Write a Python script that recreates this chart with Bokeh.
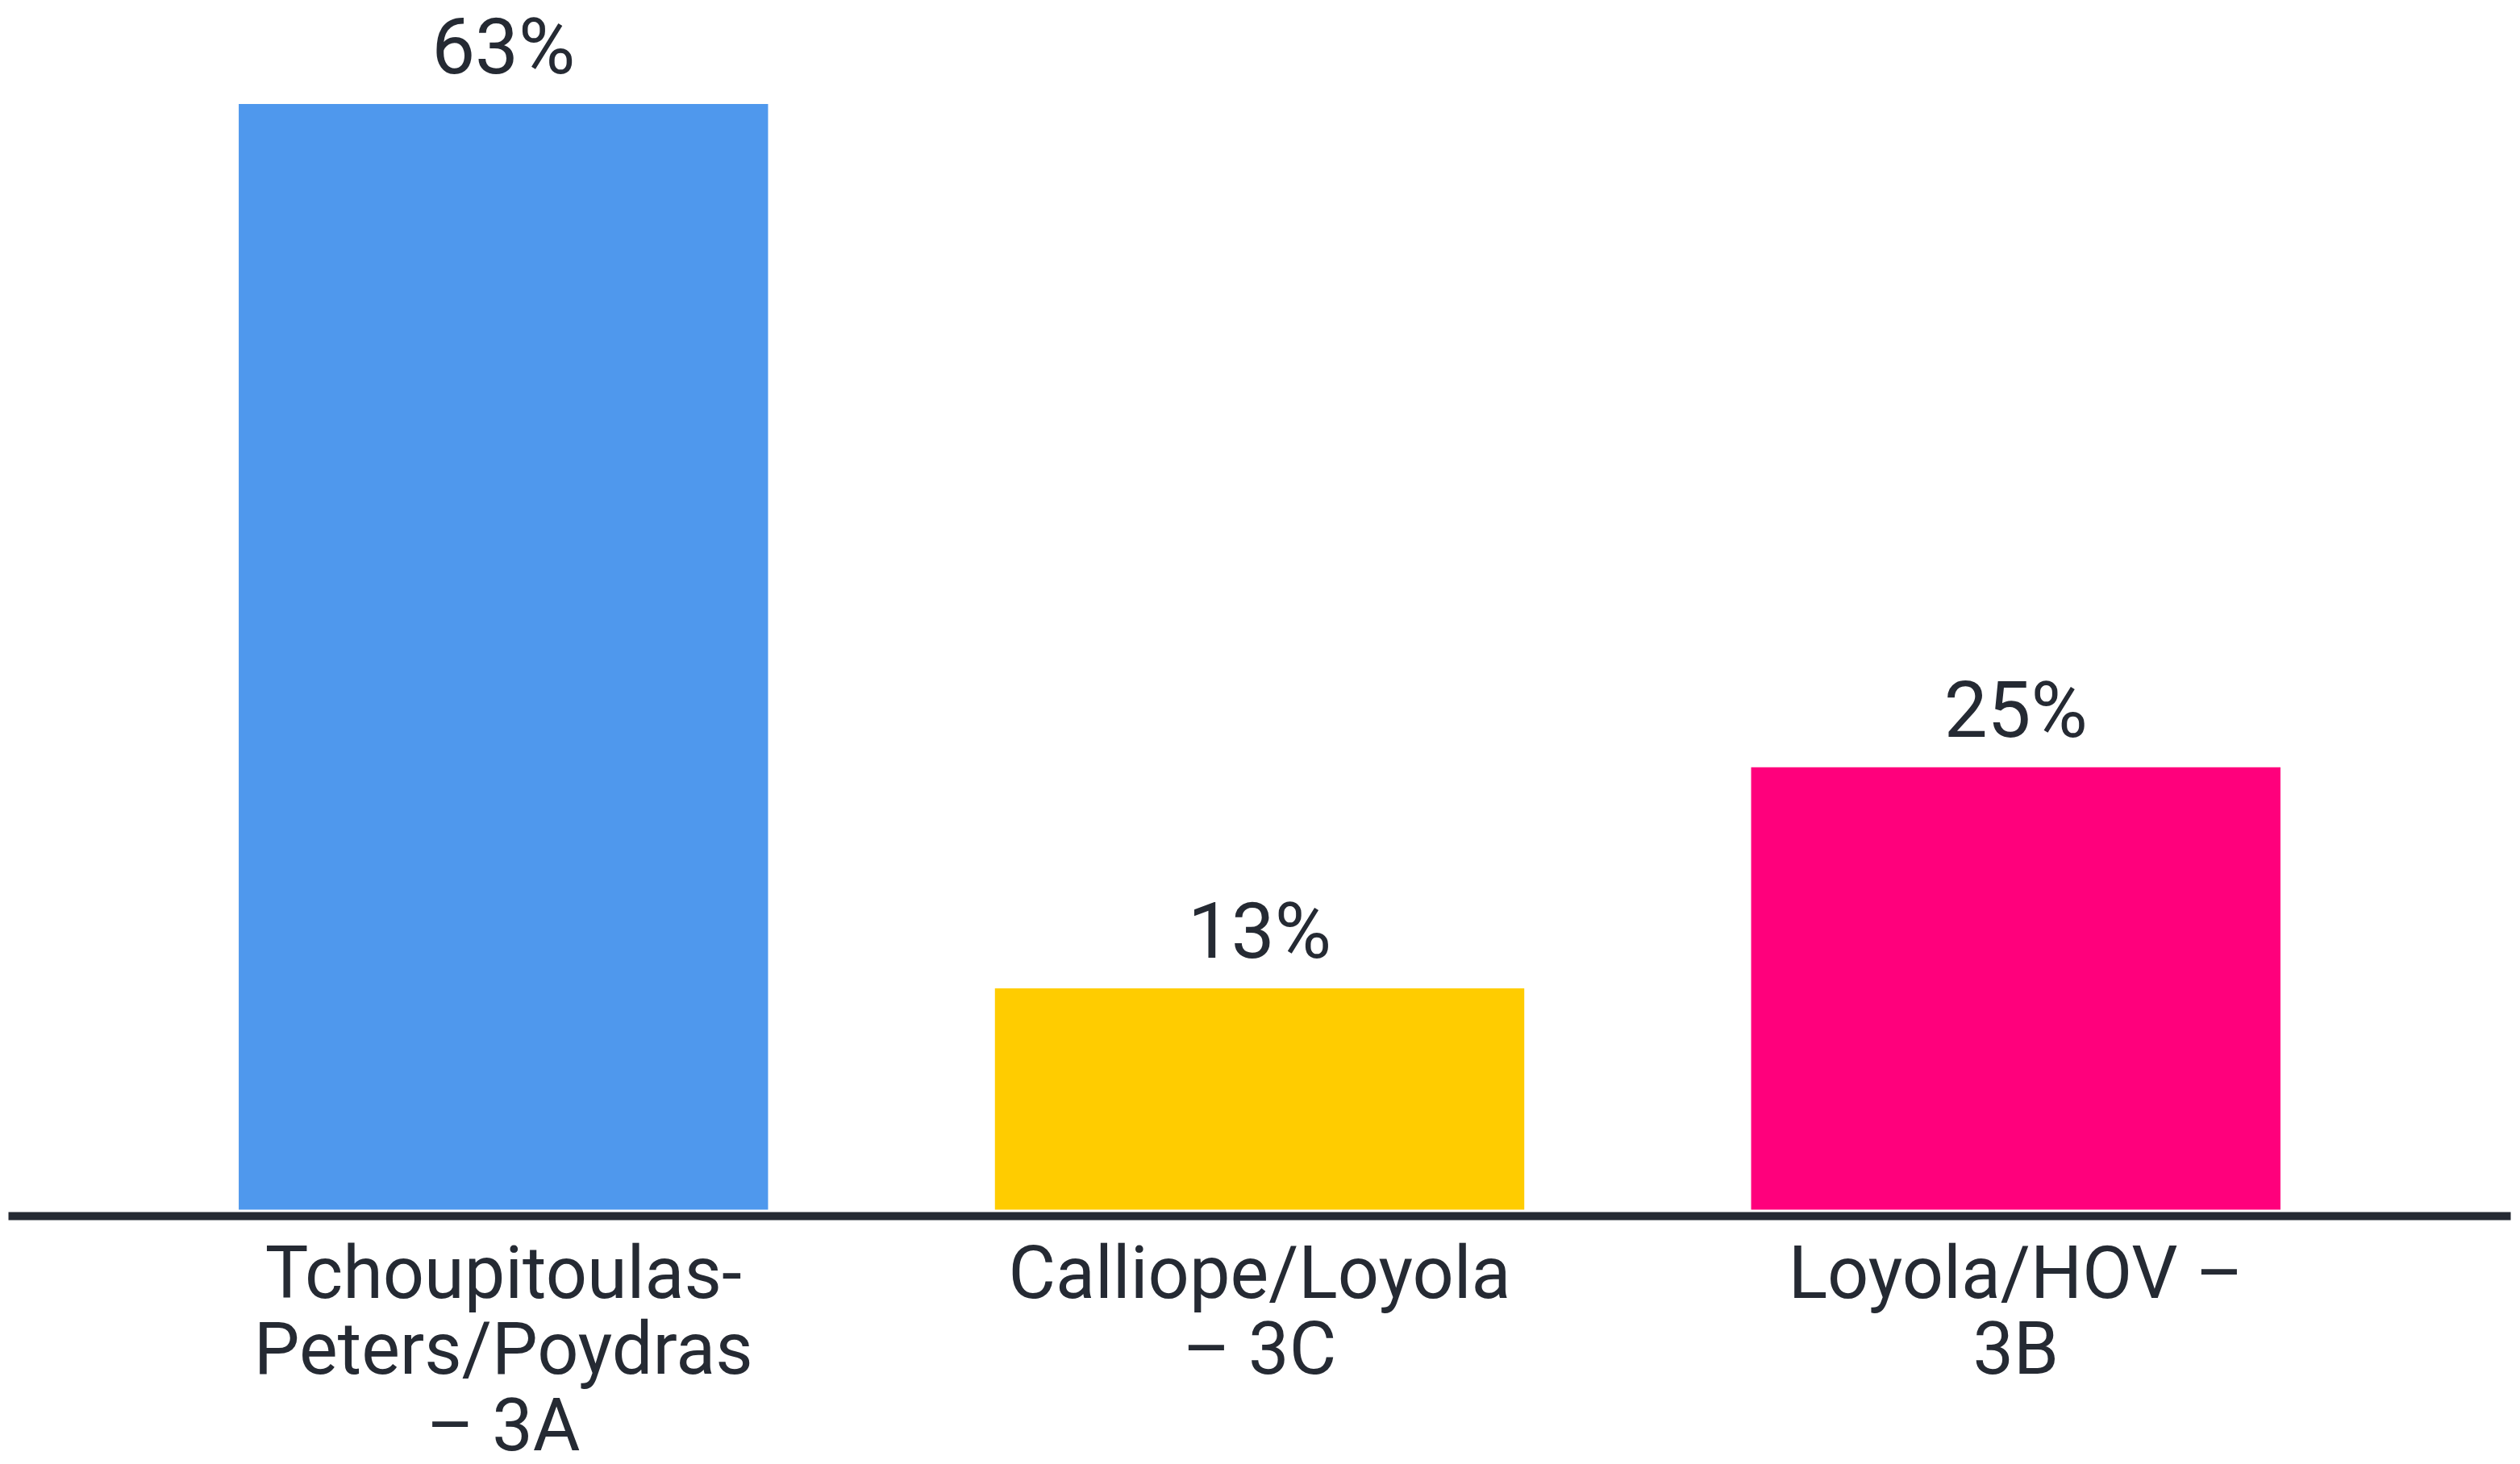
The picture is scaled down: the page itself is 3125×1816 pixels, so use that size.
from bokeh.plotting import figure
from bokeh.models import ColumnDataSource, FactorRange, Range1d
from bokeh.core.properties import value
from bokeh.transform import dodge
from bokeh.embed import file_html
from bokeh.resources import INLINE

categories = ["Tchoupitoulas-\nPeters/Poydras\n– 3A", "Calliope/Loyola\n– 3C", "Loyola/HOV –\n3B"]
values = [62.5, 12.5, 25]
value_labels = ["63%", "13%", "25%"]
colors = ["#4f98ed", "#ffcc00", "#ff007c"]

TEXT = "#252a33"
FONT = "Roboto"

src = ColumnDataSource(dict(cat=categories, val=values, lab=value_labels, col=colors))

p = figure(
    x_range=FactorRange(*categories, range_padding=0.103),
    y_range=Range1d(-0.37, 67.95),
    frame_width=3103, frame_height=1499,
    min_border_left=10, min_border_right=2, min_border_top=9, min_border_bottom=0,
    output_backend="svg", toolbar_location=None,
)
p.vbar(x="cat", top="val", bottom=0, width=0.70, fill_color="col", line_color=None, source=src)
p.text(x="cat", y=dodge("val", 0.7), text="lab", source=src, text_align="center",
       text_baseline="bottom", text_font=value(FONT), text_font_size="96px", text_color=TEXT)

p.yaxis.visible = False
p.xgrid.visible = False
p.ygrid.visible = False
p.outline_line_color = None
p.xaxis.axis_line_width = 10
p.xaxis.axis_line_color = TEXT
p.xaxis.major_tick_line_color = None
p.xaxis.minor_tick_line_color = None
p.xaxis.major_label_text_font = FONT
p.xaxis.major_label_text_font_size = "90px"
p.xaxis.major_label_text_color = TEXT
p.xaxis.major_label_text_line_height = 0.9
p.xaxis.major_label_standoff = 12
p.xaxis.major_label_orientation = "horizontal"

open("out.html", "w").write(file_html(p, INLINE))
